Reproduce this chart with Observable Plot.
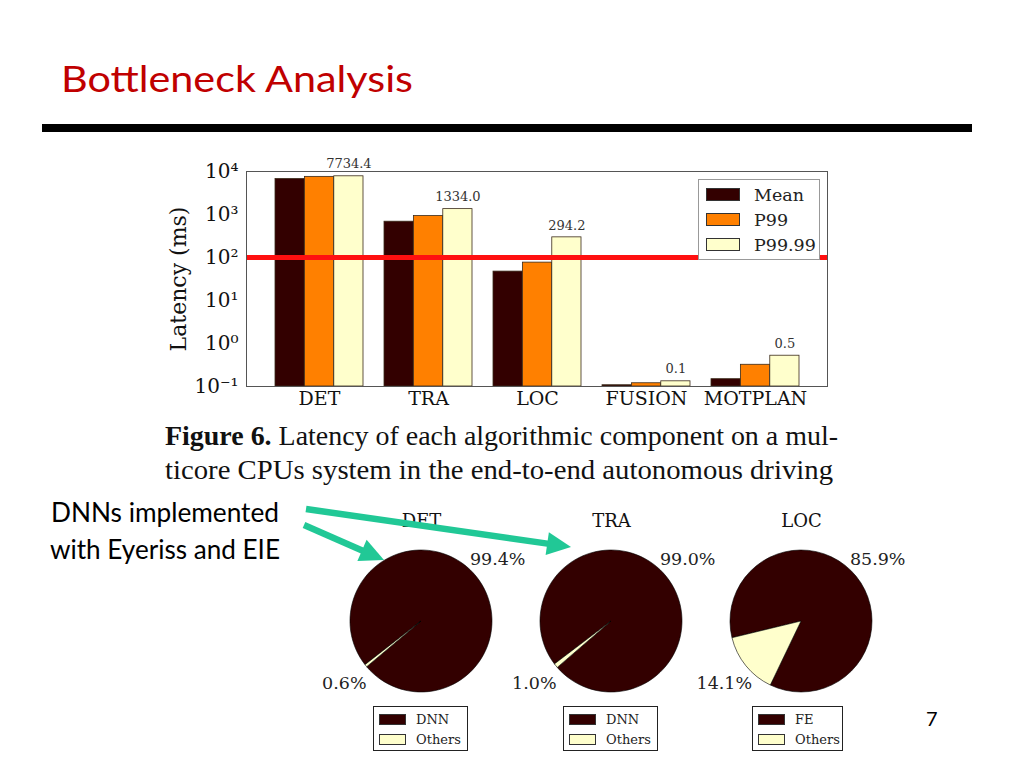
<!DOCTYPE html>
<html>
<head>
<meta charset="utf-8">
<script src="https://cdn.jsdelivr.net/npm/d3@7"></script>
<script src="https://cdn.jsdelivr.net/npm/@observablehq/plot@0.6"></script>
<style>
  html, body { margin: 0; padding: 0; background: #fff; }
  #page { position: relative; width: 1024px; height: 768px; overflow: hidden; background: #fff; }
  .abs { position: absolute; }
  .legend { position: absolute; background: #fff; box-sizing: border-box; font-family: "DejaVu Serif", serif; color: #222; }
  .legend .row { display: flex; align-items: center; }
  .legend .sw { box-sizing: border-box; border: 1px solid #333; flex: none; }
  #overlay { position: absolute; left: 0; top: 0; pointer-events: none; z-index: 10; }
</style>
</head>
<body>
<div id="page">
  <div id="bars" class="abs" style="left:140px; top:140px;"></div>
  <div id="pies" class="abs" style="left:291px; top:490px;"></div>
</div>
<script>
// ---------------- data ----------------
const categories = ["DET", "TRA", "LOC", "FUSION", "MOTPLAN"];
const seriesNames = ["Mean", "P99", "P99.99"];
const meanValues  = [6700, 680, 47, 0.107, 0.148];
const p99Values   = [7500, 918, 76, 0.119, 0.32];
const p9999Values = [7734.4, 1334.0, 294.2, 0.132, 0.52];
const valueLabels = ["7734.4", "1334.0", "294.2", "0.1", "0.5"];
const yTicks      = [0.1, 1, 10, 100, 1000, 10000];
const yTickLabels = ["10\u207B\u00B9", "10\u2070", "10\u00B9", "10\u00B2", "10\u00B3", "10\u2074"];
const threshold   = 100;

const pieNames   = ["DET", "TRA", "LOC"];
const pieLabels  = [["DNN", "Others"], ["DNN", "Others"], ["FE", "Others"]];
const pieShares  = [[99.4, 0.6], [99.0, 1.0], [85.9, 14.1]];

const barColors = ["#330000", "#ff8000", "#ffffcc"];
const pieColors = ["#330000", "#ffffcc"];

// ---------------- bar chart ----------------
const W = 720, H = 280, mL = 106, mR = 33, mT = 31, mB = 34;
const pIn = 0.196, pOut = 0.247;
const step = (W - mL - mR) / (categories.length - pIn + 2 * pOut);
const third = step * (1 - pIn) / 3;
const serif = "DejaVu Serif";

const barOpts = (vals, i) => ({
  x: d => d,
  y1: () => 0.1,
  y2: (d, j) => vals[j],
  fill: barColors[i],
  stroke: "#3a2a1a",
  strokeWidth: 0.8,
  insetLeft: i * third,
  insetRight: (2 - i) * third
});

const barPlot = Plot.plot({
  width: W, height: H,
  marginLeft: mL, marginRight: mR, marginTop: mT, marginBottom: mB,
  style: { fontFamily: serif, background: "transparent", overflow: "visible", color: "#111" },
  x: { domain: categories, paddingInner: pIn, paddingOuter: pOut, label: null },
  y: { type: "log", domain: [0.1, 10000], label: null },
  marks: [
    Plot.barY(categories, barOpts(meanValues, 0)),
    Plot.barY(categories, barOpts(p99Values, 1)),
    Plot.barY(categories, barOpts(p9999Values, 2)),
    Plot.ruleY([threshold], { stroke: "#ff1010", strokeWidth: 5 }),
    Plot.text(categories, {
      x: d => d, y: (d, j) => p9999Values[j], text: (d, j) => valueLabels[j],
      dx: third, dy: -12, fontSize: 13, fill: "#333"
    }),
    Plot.frame({ stroke: "#555", strokeWidth: 1 }),
    Plot.axisY({
      ticks: yTicks, tickFormat: d => yTickLabels[yTicks.indexOf(d)],
      tickSize: 0, tickPadding: 8, fontSize: 20, label: null
    }),
    Plot.axisX({ tickSize: 0, tickPadding: 5, fontSize: 19, label: null }),
    Plot.text(["Latency (ms)"], {
      frameAnchor: "left", textAnchor: "middle", lineAnchor: "middle",
      rotate: -90, dx: -68, fontSize: 22, fill: "#111"
    })
  ]
});
document.getElementById("bars").appendChild(barPlot);

// ---------------- pie charts ----------------
const PW = 640, PH = 212, pmT = 60, pmB = 10;
function pieMark(index, scales, values, dimensions) {
  const r = (dimensions.height - dimensions.marginTop - dimensions.marginBottom) / 2;
  const cy = dimensions.marginTop + r;
  const g = d3.create("svg:g");
  pieNames.forEach((name, k) => {
    const shares = pieShares[k];
    const frac = shares[0] / 100;
    const start = (-129 + (1 - frac) * 180) * Math.PI / 180;
    const arcs = d3.pie().sort(null).startAngle(start).endAngle(start + 2 * Math.PI)(shares);
    const arc = d3.arc().innerRadius(0).outerRadius(r);
    const lab = d3.arc().innerRadius(r * 1.39).outerRadius(r * 1.39);
    const gg = g.append("g").attr("transform", `translate(${scales.x(name)},${cy})`);
    gg.selectAll("path").data(arcs).join("path")
      .attr("d", arc)
      .attr("fill", (d, i) => pieColors[i])
      .attr("stroke", "#000").attr("stroke-width", 0.6);
    gg.selectAll("text").data(arcs).join("text")
      .attr("transform", d => `translate(${lab.centroid(d)})`)
      .attr("text-anchor", "middle").attr("dy", "0.35em")
      .attr("font-size", 17.5).attr("fill", "#222")
      .text((d, i) => shares[i].toFixed(1) + "%");
  });
  return g.node();
}

const piePlot = Plot.plot({
  width: PW, height: PH,
  marginLeft: 0, marginRight: 0, marginTop: pmT, marginBottom: pmB,
  style: { fontFamily: serif, background: "transparent", overflow: "visible", color: "#111" },
  x: { type: "point", domain: pieNames, padding: 130 / 190, axis: null },
  marks: [
    Plot.text(pieNames, { x: d => d, frameAnchor: "top", lineAnchor: "middle", dy: -29, fontSize: 18, fill: "#111" }),
    pieMark
  ]
});
document.getElementById("pies").appendChild(piePlot);

// ---------------- legends (HTML) ----------------
const page = document.getElementById("page");
function makeLegend(left, top, width, height, items, colors, opt) {
  const box = document.createElement("div");
  box.className = "legend";
  Object.assign(box.style, {
    left: left + "px", top: top + "px", width: width + "px", height: height + "px",
    border: opt.border, paddingTop: opt.padTop + "px", paddingLeft: opt.padLeft + "px",
    fontSize: opt.fontSize + "px"
  });
  items.forEach((t, i) => {
    const row = document.createElement("div");
    row.className = "row";
    row.style.height = opt.rowH + "px";
    const sw = document.createElement("div");
    sw.className = "sw";
    Object.assign(sw.style, { width: opt.swW + "px", height: opt.swH + "px", background: colors[i], marginRight: opt.gap + "px" });
    const tx = document.createElement("span");
    tx.textContent = t;
    row.appendChild(sw); row.appendChild(tx);
    box.appendChild(row);
  });
  page.appendChild(box);
}
makeLegend(698, 179, 122, 81, seriesNames, barColors,
  { border: "1px solid #999", padTop: 2, padLeft: 7, fontSize: 17.5, rowH: 25, swW: 34, swH: 13, gap: 14 });
const pieLegendLefts = [373, 563, 752];
const pieLegendWidths = [95, 95, 91];
pieLabels.forEach((labs, k) => makeLegend(pieLegendLefts[k], 706, pieLegendWidths[k], 45, labs, pieColors,
  { border: "1px solid #222", padTop: 2, padLeft: 5, fontSize: 13, rowH: 20, swW: 27, swH: 11, gap: 10 }));

// ---------------- slide decorations ----------------
const NS = "http://www.w3.org/2000/svg";
const ov = document.createElementNS(NS, "svg");
ov.setAttribute("id", "overlay");
ov.setAttribute("width", 1024); ov.setAttribute("height", 768);
ov.innerHTML = `
  <text x="61" y="92" font-family="Lato, Carlito, sans-serif" font-size="37" fill="#c00000" textLength="352" lengthAdjust="spacingAndGlyphs">Bottleneck Analysis</text>
  <rect x="42" y="124" width="930" height="8" fill="#000"></rect>
  <text x="165" y="445" font-family="'Liberation Serif', serif" font-size="27" fill="#111" textLength="673" lengthAdjust="spacingAndGlyphs"><tspan font-weight="bold">Figure 6.</tspan> Latency of each algorithmic component on a mul-</text>
  <text x="165" y="479" font-family="'Liberation Serif', serif" font-size="27" fill="#111" textLength="668" lengthAdjust="spacingAndGlyphs">ticore CPUs system in the end-to-end autonomous driving</text>
  <text x="51" y="522" font-family="Lato, Carlito, sans-serif" font-size="27" fill="#000" textLength="228" lengthAdjust="spacingAndGlyphs">DNNs implemented</text>
  <text x="50" y="559" font-family="Lato, Carlito, sans-serif" font-size="27" fill="#000" textLength="230" lengthAdjust="spacingAndGlyphs">with Eyeriss and EIE</text>
  <text x="926" y="726" font-family="Lato, Carlito, sans-serif" font-size="20" fill="#000">7</text>
`;
function arrow(x1, y1, x2, y2, color) {
  const dx = x2 - x1, dy = y2 - y1, L = Math.hypot(dx, dy);
  const ux = dx / L, uy = dy / L, hl = 24, hw = 11.5;
  const bx = x2 - ux * hl, by = y2 - uy * hl;
  const line = document.createElementNS(NS, "line");
  line.setAttribute("x1", x1); line.setAttribute("y1", y1);
  line.setAttribute("x2", bx + ux * 2); line.setAttribute("y2", by + uy * 2);
  line.setAttribute("stroke", color); line.setAttribute("stroke-width", 6.5);
  ov.appendChild(line);
  const head = document.createElementNS(NS, "polygon");
  head.setAttribute("points", `${x2},${y2} ${bx - uy * hw},${by + ux * hw} ${bx + uy * hw},${by - ux * hw}`);
  head.setAttribute("fill", color);
  ov.appendChild(head);
}
arrow(306, 509, 571, 547, "#21c896");
arrow(304, 525, 384, 560, "#21c896");
page.appendChild(ov);
</script>
</body>
</html>
